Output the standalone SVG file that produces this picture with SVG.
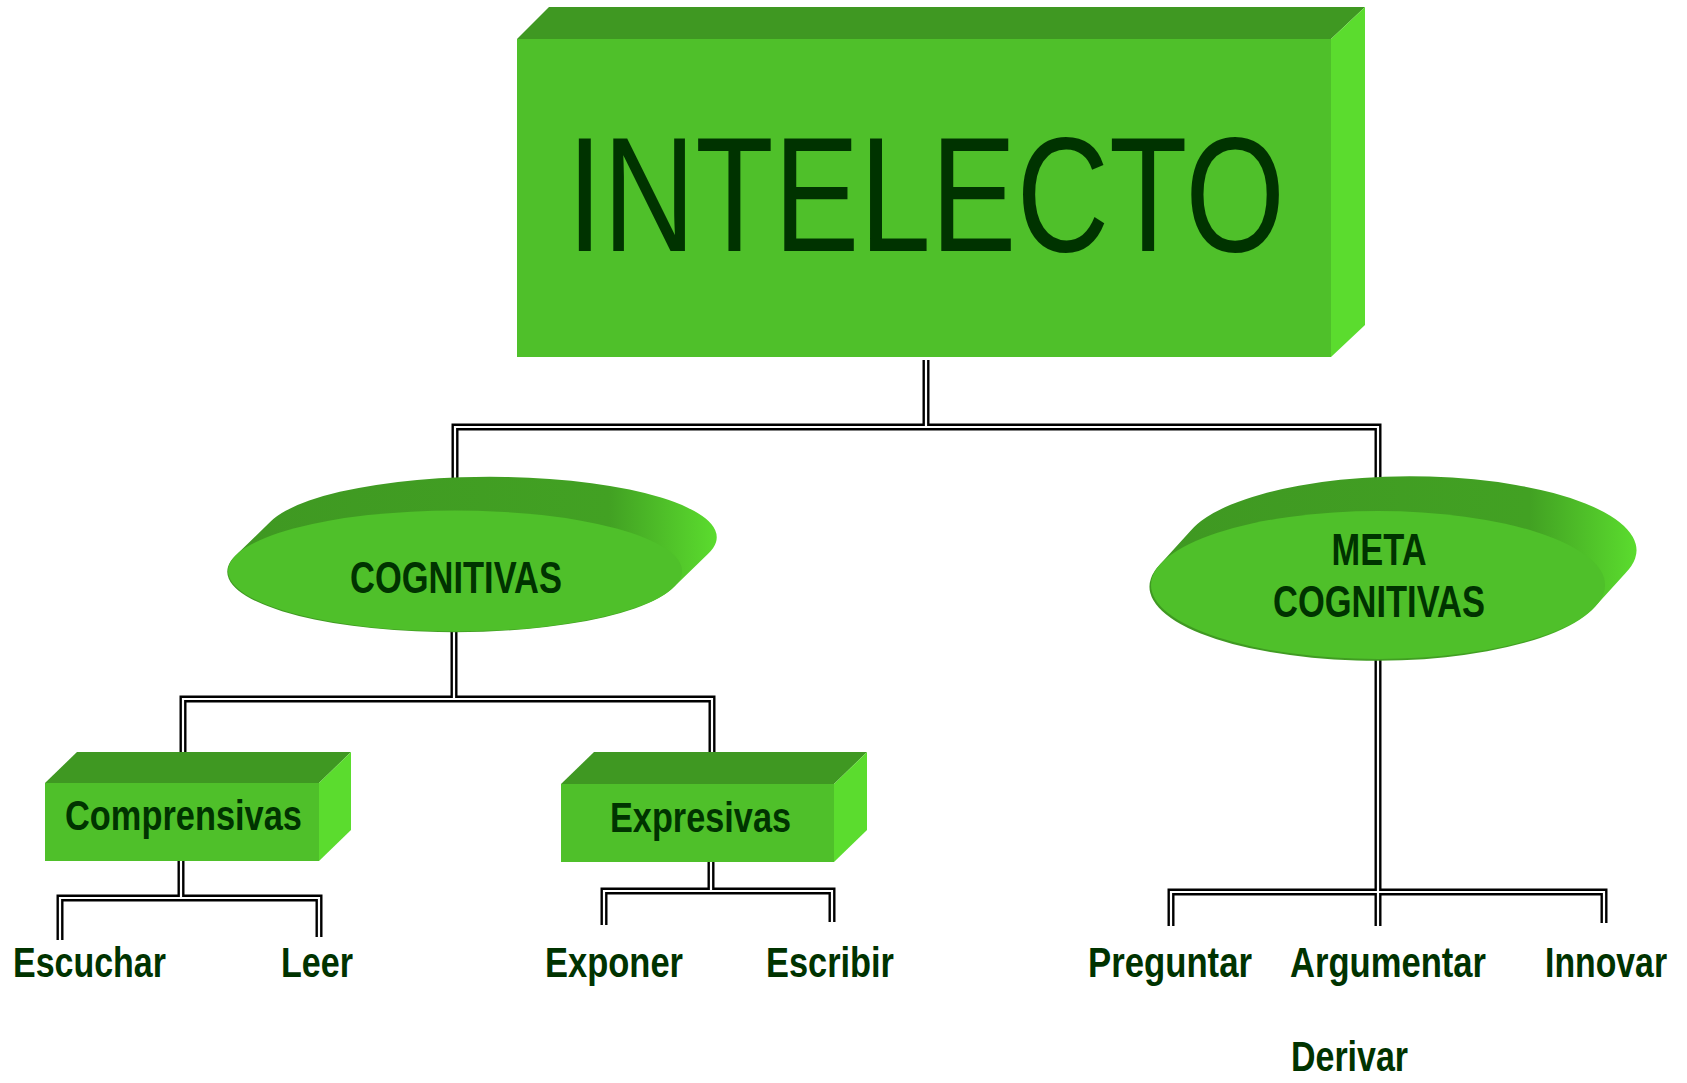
<svg xmlns="http://www.w3.org/2000/svg" width="1687" height="1083" viewBox="0 0 1687 1083">
<style>
.front{fill:#4FC02A}
.top{fill:#3F9822}
.right{fill:#5BDC2E}
.disc{fill:#4FC02A}
.side{fill:url(#sideGrad)}
.t{font-family:"Liberation Sans",Arial,sans-serif;font-weight:bold;fill:#003300}
.big{font-family:"Liberation Sans",Arial,sans-serif;font-weight:normal;fill:#003300}
.wire-o{fill:none;stroke:#000;stroke-width:7}
.wire-i{fill:none;stroke:#fff;stroke-width:2.2}
</style>
<defs>
<linearGradient id="sideGrad" x1="0" y1="0" x2="1" y2="0">
<stop offset="0" stop-color="#3F9822"/>
<stop offset="0.78" stop-color="#42A123"/>
<stop offset="1" stop-color="#5BDC2E"/>
</linearGradient>
</defs>
<rect width="1687" height="1083" fill="#fff"/>

<g id="connectors">
<path class="wire-o" d="M926,360 V427 M455,493 V427 H1378 V479 M454,632 V699 M183,765 V699 H712 V766 M181,861 V898 M60,940 V898 H319 V937 M711,862 V891 M604,925 V891 H832 V922 M1378,659 V926 M1171,926 V892 H1604 V923"/>
<path class="wire-i" d="M926,360 V427 M455,493 V427 H1378 V479 M454,632 V699 M183,765 V699 H712 V766 M181,861 V898 M60,940 V898 H319 V937 M711,862 V891 M604,925 V891 H832 V922 M1378,659 V926 M1171,926 V892 H1604 V923"/>
</g>

<g id="intelecto">
<polygon class="top" points="517,39 549,7 1365,7 1331,39"/>
<polygon class="right" points="1331,39 1365,7 1365,325 1331,357"/>
<rect class="front" x="517" y="39" width="814" height="318"/>
<text class="big" x="926" y="251" font-size="163" text-anchor="middle" textLength="718" lengthAdjust="spacingAndGlyphs">INTELECTO</text>
</g>

<g id="cognitivas">
<path class="side" d="M236.1,555 L270.1,522 A227,60.5 0 1 1 707.9,554 L673.9,587 A227,60.5 0 1 1 236.1,555 Z"/>
<ellipse class="disc" cx="455" cy="571" rx="227" ry="60.5"/>
<text class="t" x="456" y="593" font-size="44" text-anchor="middle" textLength="212" lengthAdjust="spacingAndGlyphs">COGNITIVAS</text>
</g>

<g id="metacognitivas">
<path class="side" d="M1160.4,564 L1190.4,531 A227,74 0 1 1 1625.6,573 L1595.6,606 A227,74 0 1 1 1160.4,564 Z"/>
<ellipse class="disc" cx="1378" cy="585" rx="227" ry="74"/>
<text class="t" x="1379" y="565" font-size="44" text-anchor="middle" textLength="95" lengthAdjust="spacingAndGlyphs">META</text>
<text class="t" x="1379" y="617" font-size="44" text-anchor="middle" textLength="212" lengthAdjust="spacingAndGlyphs">COGNITIVAS</text>
</g>

<g id="comprensivas">
<polygon class="top" points="45,783 77,752 351,752 319,783"/>
<polygon class="right" points="319,783 351,752 351,830 319,861"/>
<rect class="front" x="45" y="783" width="274" height="78"/>
<text class="t" x="183.5" y="830" font-size="42" text-anchor="middle" textLength="237" lengthAdjust="spacingAndGlyphs">Comprensivas</text>
</g>

<g id="expresivas">
<polygon class="top" points="561,784 594,752 867,752 834,784"/>
<polygon class="right" points="834,784 867,752 867,830 834,862"/>
<rect class="front" x="561" y="784" width="273" height="78"/>
<text class="t" x="700.5" y="832" font-size="42" text-anchor="middle" textLength="181" lengthAdjust="spacingAndGlyphs">Expresivas</text>
</g>

<g id="escuchar"><text class="t" x="13" y="977" font-size="42" textLength="153" lengthAdjust="spacingAndGlyphs">Escuchar</text></g>
<g id="leer"><text class="t" x="281" y="977" font-size="42" textLength="72" lengthAdjust="spacingAndGlyphs">Leer</text></g>
<g id="exponer"><text class="t" x="545" y="977" font-size="42" textLength="138" lengthAdjust="spacingAndGlyphs">Exponer</text></g>
<g id="escribir"><text class="t" x="766" y="977" font-size="42" textLength="128" lengthAdjust="spacingAndGlyphs">Escribir</text></g>
<g id="preguntar"><text class="t" x="1088" y="977" font-size="42" textLength="164" lengthAdjust="spacingAndGlyphs">Preguntar</text></g>
<g id="argumentar"><text class="t" x="1290" y="977" font-size="42" textLength="196" lengthAdjust="spacingAndGlyphs">Argumentar</text></g>
<g id="innovar"><text class="t" transform="translate(1545,977) scale(0.805,1)" x="0" y="0" font-size="42">Innovar</text></g>
<g id="derivar"><text class="t" x="1291" y="1071" font-size="42" textLength="117" lengthAdjust="spacingAndGlyphs">Derivar</text></g>
</svg>
